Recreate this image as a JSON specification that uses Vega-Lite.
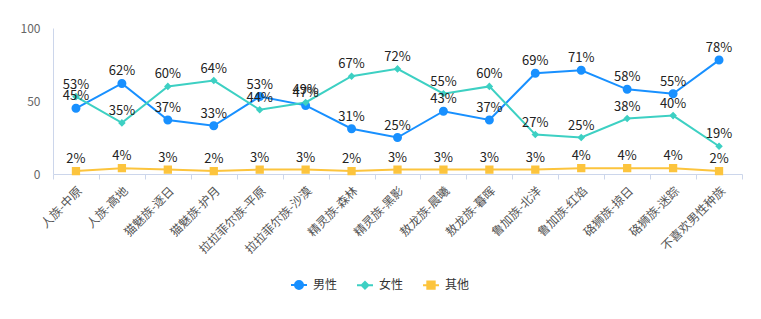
{
  "$schema": "https://vega.github.io/schema/vega-lite/v6.json",
  "autosize": "none",
  "width": 689,
  "height": 146,
  "padding": {"left": 53, "top": 28, "right": 19, "bottom": 145},
  "background": "#ffffff",
  "config": {
    "font": "Noto Sans CJK SC",
    "view": {"stroke": null}
  },
  "data": {
    "values": [
      {"种族": "人族-中原", "性别": "男性", "比例": 45},
      {"种族": "人族-高地", "性别": "男性", "比例": 62},
      {"种族": "猫魅族-逐日", "性别": "男性", "比例": 37},
      {"种族": "猫魅族-护月", "性别": "男性", "比例": 33},
      {"种族": "拉拉菲尔族-平原", "性别": "男性", "比例": 53},
      {"种族": "拉拉菲尔族-沙漠", "性别": "男性", "比例": 47},
      {"种族": "精灵族-森林", "性别": "男性", "比例": 31},
      {"种族": "精灵族-黑影", "性别": "男性", "比例": 25},
      {"种族": "敖龙族-晨曦", "性别": "男性", "比例": 43},
      {"种族": "敖龙族-暮晖", "性别": "男性", "比例": 37},
      {"种族": "鲁加族-北洋", "性别": "男性", "比例": 69},
      {"种族": "鲁加族-红焰", "性别": "男性", "比例": 71},
      {"种族": "硌狮族-掠日", "性别": "男性", "比例": 58},
      {"种族": "硌狮族-迷踪", "性别": "男性", "比例": 55},
      {"种族": "不喜欢男性种族", "性别": "男性", "比例": 78},
      {"种族": "人族-中原", "性别": "女性", "比例": 53},
      {"种族": "人族-高地", "性别": "女性", "比例": 35},
      {"种族": "猫魅族-逐日", "性别": "女性", "比例": 60},
      {"种族": "猫魅族-护月", "性别": "女性", "比例": 64},
      {"种族": "拉拉菲尔族-平原", "性别": "女性", "比例": 44},
      {"种族": "拉拉菲尔族-沙漠", "性别": "女性", "比例": 49},
      {"种族": "精灵族-森林", "性别": "女性", "比例": 67},
      {"种族": "精灵族-黑影", "性别": "女性", "比例": 72},
      {"种族": "敖龙族-晨曦", "性别": "女性", "比例": 55},
      {"种族": "敖龙族-暮晖", "性别": "女性", "比例": 60},
      {"种族": "鲁加族-北洋", "性别": "女性", "比例": 27},
      {"种族": "鲁加族-红焰", "性别": "女性", "比例": 25},
      {"种族": "硌狮族-掠日", "性别": "女性", "比例": 38},
      {"种族": "硌狮族-迷踪", "性别": "女性", "比例": 40},
      {"种族": "不喜欢男性种族", "性别": "女性", "比例": 19},
      {"种族": "人族-中原", "性别": "其他", "比例": 2},
      {"种族": "人族-高地", "性别": "其他", "比例": 4},
      {"种族": "猫魅族-逐日", "性别": "其他", "比例": 3},
      {"种族": "猫魅族-护月", "性别": "其他", "比例": 2},
      {"种族": "拉拉菲尔族-平原", "性别": "其他", "比例": 3},
      {"种族": "拉拉菲尔族-沙漠", "性别": "其他", "比例": 3},
      {"种族": "精灵族-森林", "性别": "其他", "比例": 2},
      {"种族": "精灵族-黑影", "性别": "其他", "比例": 3},
      {"种族": "敖龙族-晨曦", "性别": "其他", "比例": 3},
      {"种族": "敖龙族-暮晖", "性别": "其他", "比例": 3},
      {"种族": "鲁加族-北洋", "性别": "其他", "比例": 3},
      {"种族": "鲁加族-红焰", "性别": "其他", "比例": 4},
      {"种族": "硌狮族-掠日", "性别": "其他", "比例": 4},
      {"种族": "硌狮族-迷踪", "性别": "其他", "比例": 4},
      {"种族": "不喜欢男性种族", "性别": "其他", "比例": 2}
    ]
  },
  "encoding": {
    "x": {
      "field": "种族", "type": "nominal", "sort": null,
      "axis": {
        "title": null, "labelAngle": -45, "labelFontSize": 12, "labelColor": "#555555",
        "domainColor": "#ccd6eb", "tickColor": "#ccd6eb", "tickSize": 5, "tickBand": "extent",
        "labelPadding": 6, "labelLimit": 200
      }
    },
    "y": {
      "field": "比例", "type": "quantitative",
      "scale": {"domain": [0, 100], "nice": false},
      "axis": {
        "title": null, "values": [0, 50, 100], "grid": false, "ticks": false,
        "domainColor": "#ccd6eb", "labelColor": "#666666", "labelFontSize": 12, "labelPadding": 13
      }
    },
    "color": {
      "field": "性别", "type": "nominal",
      "scale": {"domain": ["男性", "女性", "其他"], "range": ["#1890ff", "#3dd0c3", "#fcc43d"]},
      "legend": {
        "title": null, "orient": "none", "direction": "horizontal",
        "legendX": 237, "legendY": 248,
        "symbolSize": 256, "symbolStrokeWidth": 2,
        "labelFontSize": 12, "labelColor": "#333333", "labelOffset": 5, "columnPadding": 15
      }
    }
  },
  "layer": [
    {"mark": {"type": "line", "strokeWidth": 2}},
    {
      "mark": {"type": "point", "filled": true, "opacity": 1, "size": 324, "strokeWidth": 0},
      "encoding": {
        "shape": {
          "field": "性别", "type": "nominal",
          "scale": {
            "domain": ["男性", "女性", "其他"],
            "range": [
              "M-1,0H-0.5A0.5,0.5 0 1,1 0.5,0H1M0.5,0A0.5,0.5 0 1,1 -0.5,0",
              "M-1,0H1M0,-0.42L0.42,0L0,0.42L-0.42,0Z",
              "M-1,0H1M-0.46,-0.46H0.46V0.46H-0.46Z"
            ]
          },
          "legend": {
            "title": null, "orient": "none", "direction": "horizontal",
            "legendX": 237, "legendY": 248,
            "symbolSize": 256, "symbolStrokeWidth": 2,
            "labelFontSize": 12, "labelColor": "#333333", "labelOffset": 5, "columnPadding": 15
          }
        }
      }
    },
    {
      "transform": [{"calculate": "datum['比例'] + '%'", "as": "标签"}],
      "mark": {"type": "text", "baseline": "bottom", "dy": -5, "fontSize": 13, "color": "#222222"},
      "encoding": {
        "text": {"field": "标签", "type": "nominal"},
        "color": {"value": "#222222"}
      }
    }
  ]
}
